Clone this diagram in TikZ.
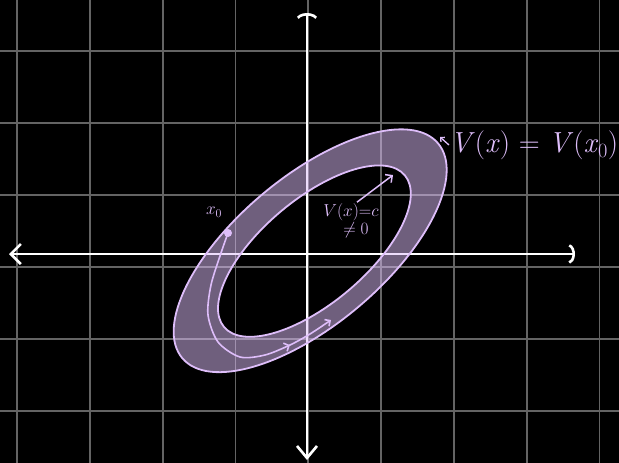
\documentclass[tikz,border=0pt]{standalone}
\usetikzlibrary{arrows.meta,decorations.markings}
\definecolor{lilac}{RGB}{222,190,250}
\definecolor{gridgray}{RGB}{100,100,100}

\begin{document}
\begin{tikzpicture}[x=1pt,y=-1pt,
  axis/.style={white,line width=2.6pt,line cap=round},
  band/.style={fill=lilac,fill opacity=0.5,even odd rule},
  rim/.style={lilac,line width=1.8pt},
  traj/.style={lilac,line width=1.6pt,line cap=round},
  lbl/.style={lilac,inner sep=1pt}]

% Fond
\fill[black] (0,0) rectangle (619,463);
\useasboundingbox (0,0) rectangle (619,463);

% Quadrillage
\foreach \x in {0,...,8}
{
\draw[gridgray,line width=1.8pt] (17+72.8*\x,0) -- (17+72.8*\x,463);
}
\foreach \y in {0,...,5}
{
\draw[gridgray,line width=1.8pt] (0,51+72*\y) -- (619,51+72*\y);
}

% Axes
\coordinate (xl) at (9,254);
\coordinate (xr) at (575,254);
\coordinate (yt) at (307,13);
\coordinate (yb) at (307,460);
\draw[axis,{Straight Barb[length=10pt,width=20pt]}-{Arc Barb[width=20pt,arc=160]}] (xl) -- (xr);
\draw[axis,{Arc Barb[width=22pt,arc=140]}-{Straight Barb[length=12pt,width=20pt]}] (yt) -- (yb);

% Anneau
\begin{scope}[rotate around={40:(313,251)}]
\fill[band] (311,249) ellipse [x radius=167,y radius=74]
            (314,252) ellipse [x radius=118,y radius=52];
\draw[rim] (311,249) ellipse [x radius=167,y radius=74];
\draw[rim] (314,252) ellipse [x radius=118,y radius=52];
\end{scope}

% Trajectoire
\node[circle,fill=lilac,inner sep=0pt,minimum size=8pt] (x0pt) at (228,233) {};
\coordinate (x1pt) at (331,320);
\draw[traj,-{Straight Barb[length=4pt,width=8pt]},
  postaction={decorate},
  decoration={markings,mark=at position 0.8 with {\arrow{Straight Barb[length=4pt,width=9pt]}}}]
  plot[smooth] coordinates {(x0pt.center) (221,253) (211,285) (208,315) (218,342)
  (240,357) (265,355) (290,345) (310,334) (x1pt)};

% Etiquettes
\node[lbl,font=\fontsize{17}{20}\selectfont] (x0lab) at (214,212) {$x_0$};
\node[lbl,font=\fontsize{17}{20}\selectfont] (clab) at (351,212) {$V(x){=}c$};
\node[lbl,font=\fontsize{17}{20}\selectfont] (cpos) at (356,230) {$\neq 0$};
\node[lbl,font=\fontsize{29}{34}\selectfont,anchor=west] (lyap) at (449,145)
  {\textit{V}(\textit{x}) = \textit{V}(\textit{x}\textsubscript{0})};

\coordinate (ctip) at (393,175);
\coordinate (rimpt) at (440,137);
\draw[lilac,line width=1.5pt,-{Straight Barb[length=5pt,width=10pt]}] ([xshift=6pt]clab.north) -- (ctip);
\draw[lilac,line width=1.3pt,-{Straight Barb[length=3pt,width=6pt]}] (lyap.west) -- (rimpt);

\end{tikzpicture}
\end{document}
